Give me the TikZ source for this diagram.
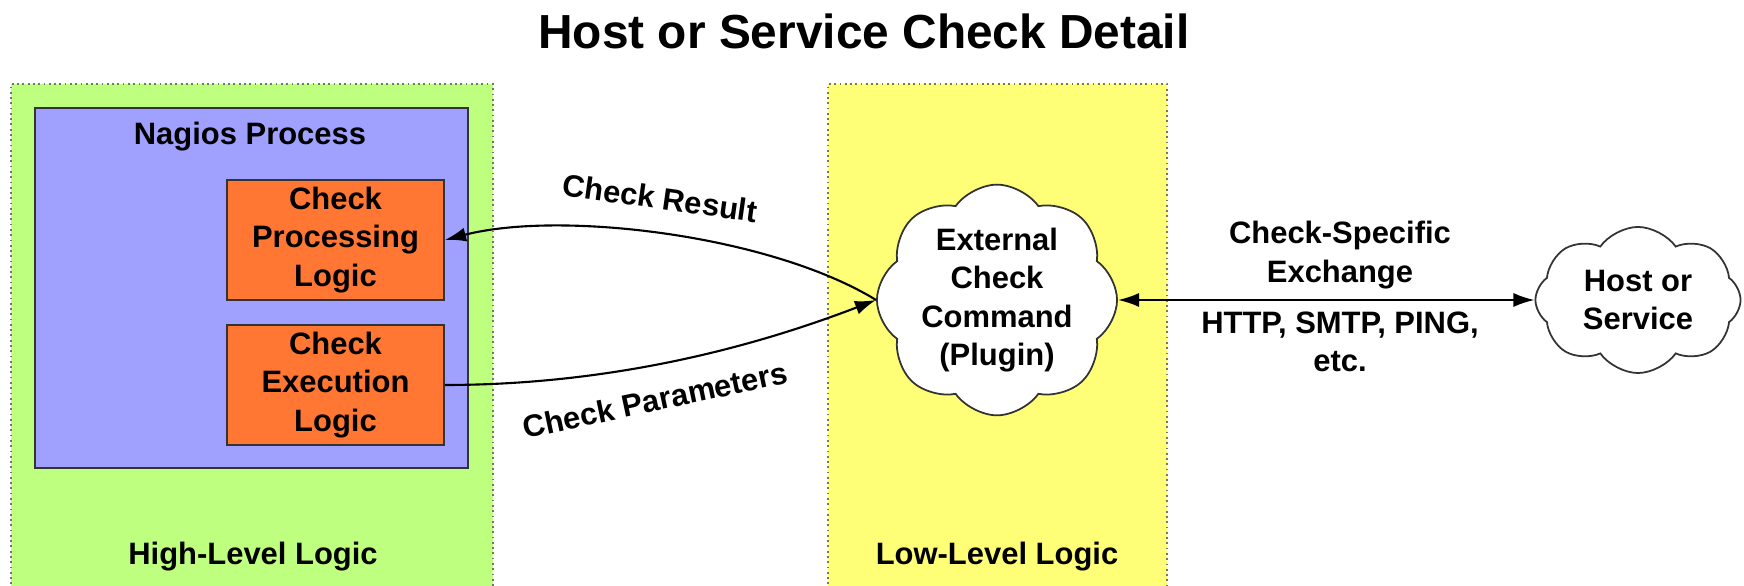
\documentclass[tikz,border=0pt]{standalone}
\usepackage{fontspec}
\setmainfont{Liberation Sans}
\usetikzlibrary{arrows.meta,shapes.symbols,positioning}

\definecolor{highgreen}{RGB}{191,255,128}
\definecolor{lowyellow}{RGB}{255,255,119}
\definecolor{nagiosblue}{RGB}{160,160,255}
\definecolor{logicorange}{RGB}{255,119,51}

\begin{document}
\begin{tikzpicture}[x=0.01cm, y=-0.01cm,
    every node/.style={font=\fontsize{8.8}{10.9}\selectfont\bfseries, align=center},
    region/.style={draw=black!55, densely dotted, line width=0.5pt},
    logic/.style={draw=black!80, fill=logicorange, line width=0.5pt, minimum width=2.17cm, minimum height=1.2cm, inner sep=0pt},
    puff/.style={cloud, cloud puffs=8, cloud puff arc=110, cloud ignores aspect, draw=black!80, fill=white, line width=0.5pt, inner sep=0pt},
    flow/.style={-{Latex[length=6pt,width=4pt]}, line width=0.6pt}]
                \useasboundingbox (0,0) rectangle (1744,586);
                \clip (0,0) rectangle (1744,586);

                % the two logic regions
                \fill [highgreen] (11,84) rectangle (493,600);
                \draw [region] (11,600) -- (11,84) -- (493,84) -- (493,600);
                \fill [lowyellow] (828,84) rectangle (1167,600);
                \draw [region] (828,600) -- (828,84) -- (1167,84) -- (1167,600);

                \node (title) at (864,31) {\fontsize{13.6}{16}\selectfont Host or Service Check Detail};

                \node (nagios) [draw=black!80, fill=nagiosblue, line width=0.5pt, minimum width=4.33cm, minimum height=3.6cm] at (251.5,288) {};
                \node (nagioslbl) at (250,137) {Nagios Process};
                \node (proc) [logic] at (335.5,240) {Check\\Processing\\Logic};
                \node (exec) [logic] at (335.5,385) {Check\\Execution\\Logic};
                \node (high) at (253,557) {High-Level Logic};
                \node (low) at (997,557) {Low-Level Logic};

                \node (plugin) [puff, minimum width=2.4cm, minimum height=1.95cm] at (997,300) {External\\Check\\Command\\(Plugin)};
                \node (host) [puff, minimum width=2.05cm, minimum height=1.46cm] at (1638,300) {Host or\\Service};

                \draw [flow] (plugin.west) .. controls (770,235) and (560,210) .. (proc.east);
                \draw [flow] (exec.east) .. controls (580,385) and (720,360) .. (plugin.west);
                \draw [flow, {Latex[length=6pt,width=4pt]}-{Latex[length=6pt,width=4pt]}] (plugin.east) -- (host.west);

                \node (result) [rotate=-8] at (660,198) {Check Result};
                \node (params) [rotate=12] at (655,400) {Check Parameters};
                \node (exchange) at (1340,255) {Check-Specific\\Exchange};
                \node (protocols) at (1340,342) {HTTP, SMTP, PING,\\etc.};
            \end{tikzpicture}
\end{document}
